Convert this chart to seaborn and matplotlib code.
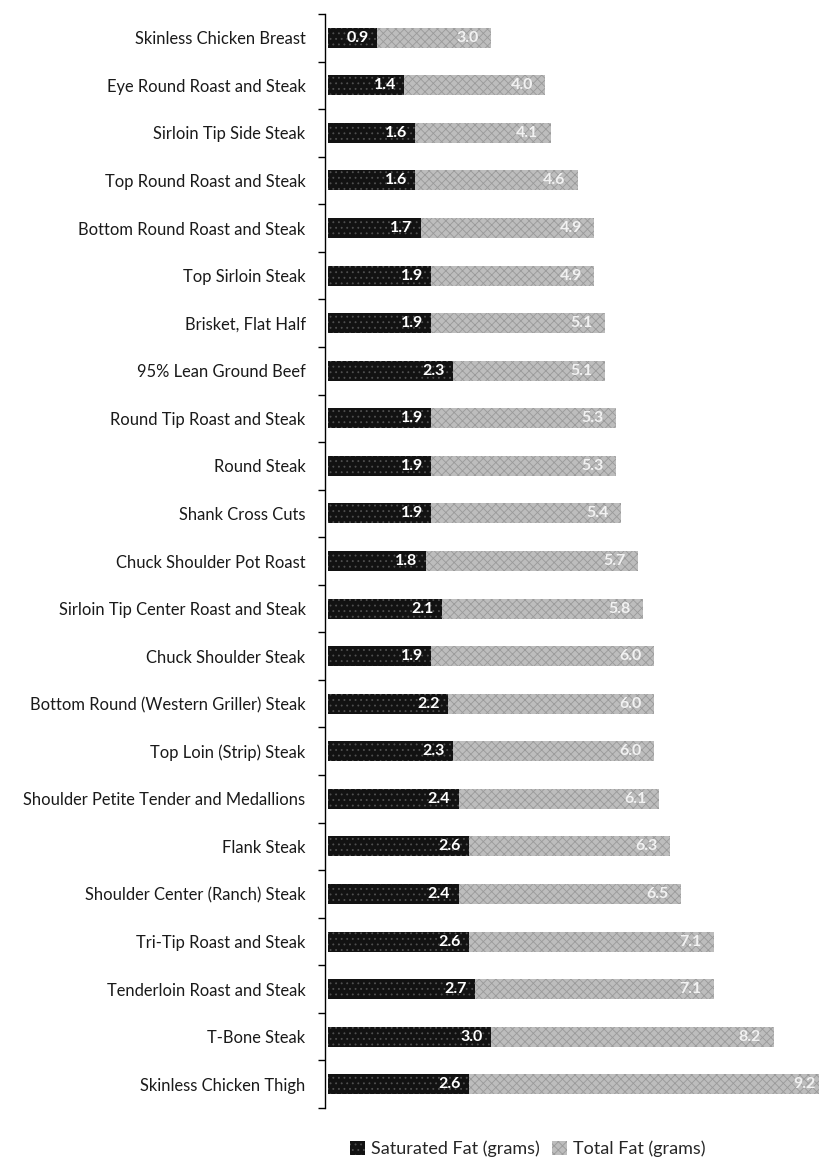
import matplotlib
matplotlib.use("Agg")
import matplotlib.pyplot as plt
import matplotlib.patches as mpatches
from matplotlib.ticker import FixedLocator
import numpy as np
import pandas as pd
import seaborn as sns

cuts = [
    "Skinless Chicken Breast",
    "Eye Round Roast and Steak",
    "Sirloin Tip Side Steak",
    "Top Round Roast and Steak",
    "Bottom Round Roast and Steak",
    "Top Sirloin Steak",
    "Brisket, Flat Half",
    "95% Lean Ground Beef",
    "Round Tip Roast and Steak",
    "Round Steak",
    "Shank Cross Cuts",
    "Chuck Shoulder Pot Roast",
    "Sirloin Tip Center Roast and Steak",
    "Chuck Shoulder Steak",
    "Bottom Round (Western Griller) Steak",
    "Top Loin (Strip) Steak",
    "Shoulder Petite Tender and Medallions",
    "Flank Steak",
    "Shoulder Center (Ranch) Steak",
    "Tri-Tip Roast and Steak",
    "Tenderloin Roast and Steak",
    "T-Bone Steak",
    "Skinless Chicken Thigh",
]
saturated_fat = [0.9, 1.4, 1.6, 1.6, 1.7, 1.9, 1.9, 2.3, 1.9, 1.9, 1.9, 1.8,
                 2.1, 1.9, 2.2, 2.3, 2.4, 2.6, 2.4, 2.6, 2.7, 3.0, 2.6]
total_fat = [3.0, 4.0, 4.1, 4.6, 4.9, 4.9, 5.1, 5.1, 5.3, 5.3, 5.4, 5.7,
             5.8, 6.0, 6.0, 6.0, 6.1, 6.3, 6.5, 7.1, 7.1, 8.2, 9.2]
series_names = ["Saturated Fat (grams)", "Total Fat (grams)"]

df = pd.DataFrame({"cut": cuts, "sat": saturated_fat, "total": total_fat})

sns.set_style("white")
plt.rcParams["font.family"] = ["Lato", "DejaVu Sans"]
plt.rcParams["hatch.linewidth"] = 0.6

fig = plt.figure(figsize=(8.2, 11.65), dpi=100)
ax = fig.add_axes([325 / 820, 1 - 1108 / 1165, 1 - 325 / 820, (1108 - 14) / 1165])

dark_face, dark_hatch = "#121212", "#505050"
grey_face, grey_hatch = "#bdbdbd", "#9a9a9a"

# total fat drawn first, saturated fat overlaid from the same baseline
sns.barplot(data=df, x="total", y="cut", orient="h", color=grey_face,
            width=0.42, saturation=1, ax=ax)
n_total = len(ax.patches)
sns.barplot(data=df, x="sat", y="cut", orient="h", color=dark_face,
            width=0.42, saturation=1, ax=ax)

for i, p in enumerate(ax.patches):
    if i < n_total:
        p.set_hatch("xxxx")
        p.set_edgecolor(grey_hatch)
    else:
        p.set_hatch("...")
        p.set_edgecolor(dark_hatch)
    p.set_linewidth(0)

# value labels just inside the end of each bar
for i, (s, t) in enumerate(zip(saturated_fat, total_fat)):
    ax.annotate(f"{s:.1f}", xy=(s, i), xytext=(-6, 0), textcoords="offset points",
                ha="right", va="center", color="white", fontsize=11.5,
                fontweight="bold", annotation_clip=False)
    ax.annotate(f"{t:.1f}", xy=(t, i), xytext=(-9, 0), textcoords="offset points",
                ha="right", va="center", color="#f2f2f2", fontsize=11.5,
                fontweight="bold", annotation_clip=False, clip_on=False)

ax.set_xlim(-0.06, -0.06 + 495 / 54.3)
ax.set_ylim(len(cuts) - 0.5, -0.5)
ax.set_xlabel("")
ax.set_ylabel("")
ax.xaxis.set_visible(False)
for side in ["top", "right", "bottom"]:
    ax.spines[side].set_visible(False)
ax.spines["left"].set_color("black")
ax.spines["left"].set_linewidth(1.0)

ax.yaxis.set_minor_locator(FixedLocator(np.arange(-0.5, len(cuts), 1.0)))
ax.tick_params(axis="y", which="major", length=0, pad=14, labelsize=11.9,
               labelcolor="#1a1a1a")
ax.tick_params(axis="y", which="minor", length=5, width=1, direction="out",
               color="black", left=True)

handles = [
    mpatches.Patch(facecolor=dark_face, edgecolor=dark_hatch, hatch="...",
                   linewidth=0, label=series_names[0]),
    mpatches.Patch(facecolor=grey_face, edgecolor=grey_hatch, hatch="xxxx",
                   linewidth=0, label=series_names[1]),
]
fig.legend(handles=handles, loc="center", bbox_to_anchor=(528 / 820, 1 - 1149 / 1165),
           ncol=2, frameon=False, fontsize=13, handlelength=0.8, handleheight=0.8,
           columnspacing=0.7, handletextpad=0.35)

fig.savefig("out.png", dpi=100)
